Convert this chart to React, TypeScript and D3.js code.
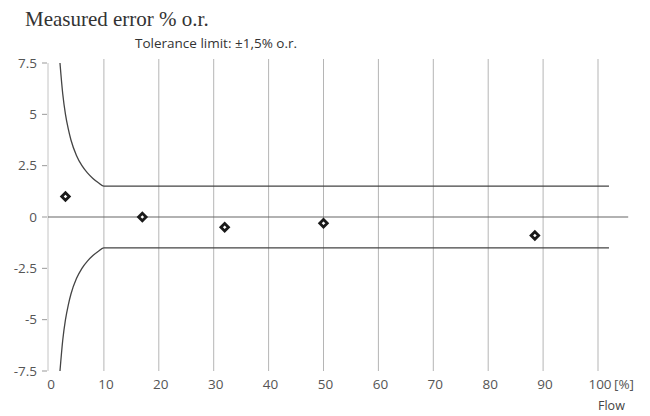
import React from 'react';
import * as d3 from 'd3';

// flow ticks (% of full scale)
const xTicks = [0, 10, 20, 30, 40, 50, 60, 70, 80, 90, 100];
const yTicks = [7.5, 5, 2.5, 0, -2.5, -5, -7.5];
const yTickLabels = ['7.5', '5', '2.5', '0', '-2.5', '-5', '-7.5'];

// tolerance limit envelope (upper half, mirrored below)
const tolFlow = [2, 2.5, 3, 3.5, 4, 5, 6, 7, 8, 9, 10, 102];
const tolLimit = [7.5, 6, 5, 4.3, 3.75, 3, 2.5, 2.15, 1.88, 1.67, 1.5, 1.5];

// measured points
const measFlow = [3, 17, 32, 50, 88.5];
const measError = [1.0, 0.0, -0.5, -0.3, -0.9];

const W = 650;
const H = 416;

export default function App() {
  const x = d3.scaleLinear().domain([0, 100]).range([49, 598]);
  const y = d3.scaleLinear().domain([-7.5, 7.5]).range([371, 63]);

  const pts = tolFlow.map((f, i) => [f, tolLimit[i]] as [number, number]);
  const line = d3
    .line<[number, number]>()
    .x((d) => x(d[0]))
    .y((d) => y(d[1]))
    .curve(d3.curveMonotoneX);
  const upper = line(pts) || '';
  const lower = line(pts.map((d) => [d[0], -d[1]] as [number, number])) || '';

  const diamond = d3.symbol().type(d3.symbolDiamond2).size(36)() || '';

  const sans = "'Open Sans', 'DejaVu Sans', sans-serif";

  return (
    <svg
      width={W}
      height={H}
      style={{ position: 'absolute', left: 0, top: 0, background: '#fff' }}
    >
      <text x={25} y={26} fontFamily="'Liberation Serif', serif" fontSize={21} fill="#333">
        Measured error % o.r.
      </text>
      <text x={135} y={48} fontFamily={sans} fontSize={13.5} fill="#333">
        Tolerance limit: ±1,5% o.r.
      </text>

      {/* vertical grid */}
      {xTicks.slice(1).map((t) => (
        <line
          key={'g' + t}
          x1={x(t)}
          x2={x(t)}
          y1={y(7.5) - 4}
          y2={y(-7.5)}
          stroke="#b5b5b5"
          strokeWidth={1}
        />
      ))}

      {/* y axis */}
      <line x1={x(0) - 1} x2={x(0) - 1} y1={y(7.5)} y2={y(-7.5)} stroke="#c4c4c4" strokeWidth={1} />
      {yTicks.map((t, i) => (
        <g key={'y' + t}>
          <line x1={x(0) - 7} x2={x(0) - 2} y1={y(t)} y2={y(t)} stroke="#999" strokeWidth={1} />
          <text
            x={37}
            y={y(t)}
            dy="0.35em"
            textAnchor="end"
            fontFamily={sans}
            fontSize={13.5}
            fill="#555"
          >
            {yTickLabels[i]}
          </text>
        </g>
      ))}

      {/* x labels */}
      {xTicks.map((t) => (
        <text
          key={'x' + t}
          x={x(t) + 2}
          y={389}
          textAnchor="middle"
          fontFamily={sans}
          fontSize={13.5}
          fill="#555"
        >
          {t}
        </text>
      ))}
      <text x={x(100) + 16} y={389} fontFamily={sans} fontSize={13.5} fill="#555">
        [%]
      </text>
      <text x={598} y={410} fontFamily={sans} fontSize={12.5} fill="#444">
        Flow
      </text>

      {/* zero line */}
      <line x1={x(0) - 1} x2={x(105.5)} y1={y(0)} y2={y(0)} stroke="#666" strokeWidth={1.2} />

      {/* tolerance envelope */}
      <path d={upper} fill="none" stroke="#444" strokeWidth={1.3} />
      <path d={lower} fill="none" stroke="#444" strokeWidth={1.3} />

      {/* measured points */}
      {measFlow.map((f, i) => (
        <path
          key={'m' + i}
          d={diamond}
          transform={`translate(${x(f)},${y(measError[i])})`}
          fill="#fff"
          stroke="#1a1a1a"
          strokeWidth={2.8}
        />
      ))}
    </svg>
  );
}
